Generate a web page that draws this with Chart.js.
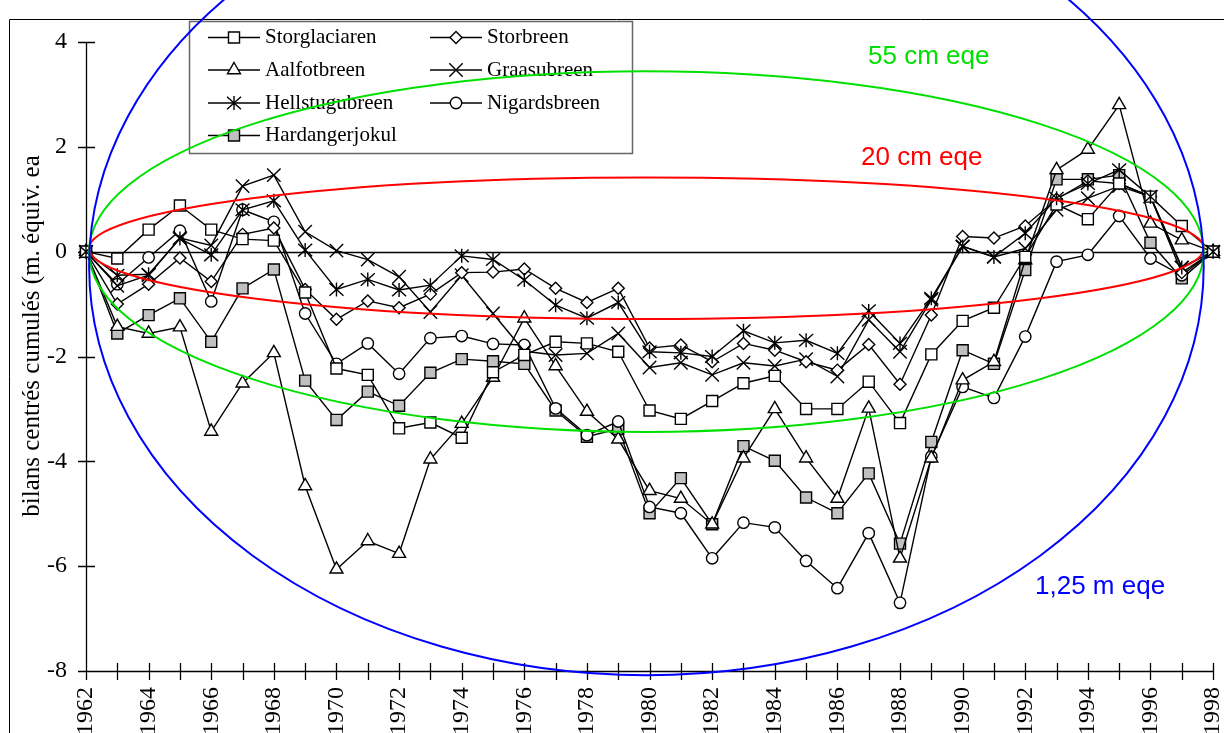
<!DOCTYPE html>
<html>
<head>
<meta charset="utf-8">
<script src="https://cdn.jsdelivr.net/npm/chart.js@4.4.1/dist/chart.umd.min.js"></script>
<style>
    html, body { margin: 0; padding: 0; background: #fff; }
    #wrap { width: 1224px; height: 733px; }
</style>
</head>
<body>
<div id="wrap"><canvas id="chart" width="1224" height="733"></canvas></div>
<script>
// Years and tick labels
const years = [1962, 1963, 1964, 1965, 1966, 1967, 1968, 1969, 1970, 1971, 1972, 1973,
    1974, 1975, 1976, 1977, 1978, 1979, 1980, 1981, 1982, 1983, 1984, 1985, 1986, 1987,
    1988, 1989, 1990, 1991, 1992, 1993, 1994, 1995, 1996, 1997, 1998];
const xTickLabels = ['1962', '1964', '1966', '1968', '1970', '1972', '1974', '1976', '1978',
    '1980', '1982', '1984', '1986', '1988', '1990', '1992', '1994', '1996', '1998'];
const yTickValues = [-8, -6, -4, -2, 0, 2, 4];

// Cumulated centred balances (m w.e.)
const storglaciaren = [0, -0.13, 0.42, 0.88, 0.42, 0.24, 0.21, -0.78, -2.23, -2.35, -3.37, -3.26,
    -3.55, -2.30, -1.97, -1.72, -1.75, -1.91, -3.03, -3.19, -2.85, -2.51, -2.37, -3.00, -3.00, -2.48,
    -3.27, -1.96, -1.32, -1.07, -0.10, 0.90, 0.62, 1.30, 1.05, 0.49, 0];
const storbreen = [0, -1.00, -0.62, -0.12, -0.57, 0.33, 0.45, -0.72, -1.29, -0.94, -1.07, -0.81,
    -0.40, -0.39, -0.33, -0.70, -0.97, -0.70, -1.84, -1.78, -2.10, -1.75, -1.88, -2.10, -2.26, -1.77,
    -2.53, -1.21, 0.29, 0.26, 0.49, 1.00, 1.35, 1.30, 1.05, -0.40, 0];
const aalfotbreen = [0, -1.43, -1.56, -1.44, -3.43, -2.51, -1.93, -4.47, -6.06, -5.52, -5.76, -3.96,
    -3.28, -2.40, -1.27, -2.18, -3.05, -3.58, -4.56, -4.71, -5.20, -3.94, -3.00, -3.94, -4.71, -2.99,
    -5.85, -3.94, -2.45, -2.10, -0.16, 1.56, 1.95, 2.80, 0.54, 0.22, 0];
const graasubreen = [0, -0.65, -0.45, 0.26, 0.12, 1.25, 1.46, 0.38, 0.02, -0.15, -0.48, -1.15,
    -0.45, -1.18, -1.90, -1.97, -1.94, -1.56, -2.21, -2.12, -2.35, -2.12, -2.18, -2.05, -2.38, -1.30,
    -1.91, -0.92, 0.10, -0.10, 0.06, 0.80, 1.02, 1.25, 1.05, -0.30, 0];
const hellstugubreen = [0, -0.45, -0.43, 0.25, -0.06, 0.80, 0.97, 0.03, -0.72, -0.53, -0.73, -0.64,
    -0.08, -0.15, -0.54, -1.02, -1.27, -0.97, -1.91, -1.93, -2.00, -1.51, -1.74, -1.69, -1.94, -1.13,
    -1.75, -0.89, 0.10, -0.10, 0.35, 1.02, 1.30, 1.56, 1.05, -0.30, 0];
const nigardsbreen = [0, -0.62, -0.11, 0.40, -0.95, 0.80, 0.57, -1.18, -2.14, -1.75, -2.33, -1.65,
    -1.61, -1.76, -1.78, -2.99, -3.50, -3.24, -4.87, -4.99, -5.85, -5.17, -5.26, -5.90, -6.42, -5.37,
    -6.70, -3.91, -2.58, -2.79, -1.62, -0.19, -0.06, 0.68, -0.13, -0.45, 0];
const hardangerjokul = [0, -1.56, -1.21, -0.89, -1.72, -0.70, -0.34, -2.46, -3.21, -2.67, -2.94, -2.31,
    -2.05, -2.09, -2.14, -3.03, -3.53, -3.38, -4.99, -4.32, -5.20, -3.71, -3.99, -4.69, -4.99, -4.23,
    -5.57, -3.63, -1.88, -2.14, -0.35, 1.38, 1.38, 1.46, 0.17, -0.51, 0];

// Envelope ellipses (centre year, half width in years, centre and half height in m)
const ellipseCenterYear = 1979.9;
const ellipseHalfYears = 17.8;
const ellipseCenters = [0.065, 0, -0.28];
const ellipseHalfHeights = [1.35, 3.44, 7.8];
const ellipseLabels = ['20 cm eqe', '55 cm eqe', '1,25 m eqe'];
const ellipseColors = ['#ff0000', '#00e000', '#0000ff'];

const SERIF = '"Liberation Serif", "Times New Roman", serif';
const SANS = '"Liberation Sans", Arial, sans-serif';

// asterisk marker: vertical bar + X (6 arms), drawn by hand for crisp strokes
function drawAsterisk(ctx, x, y, half) {
    ctx.save();
    ctx.strokeStyle = '#000';
    ctx.lineWidth = 1.4;
    ctx.beginPath();
    ctx.moveTo(x, y - half); ctx.lineTo(x, y + half);
    ctx.moveTo(x - half, y - half * 0.9); ctx.lineTo(x + half, y + half * 0.9);
    ctx.moveTo(x - half, y + half * 0.9); ctx.lineTo(x + half, y - half * 0.9);
    ctx.stroke();
    ctx.restore();
}

function toPoints(values) {
    return values.map((v, i) => ({ x: years[i], y: v }));
}

function series(label, values, style, radius, fill) {
    return {
        label: label,
        data: toPoints(values),
        borderColor: '#000',
        borderWidth: 1.4,
        pointStyle: style,
        pointRadius: style === 'asterisk' ? 0 : radius,
        markerRadius: radius,
        markerStyle: style,
        pointBackgroundColor: fill,
        pointBorderColor: '#000',
        pointBorderWidth: 1.4,
        tension: 0,
        clip: false
    };
}

const datasets = [
    series('Storglaciaren', storglaciaren, 'rect', 7.8, '#fff'),
    series('Storbreen', storbreen, 'rectRot', 6, '#fff'),
    series('Aalfotbreen', aalfotbreen, 'triangle', 7.5, '#fff'),
    series('Graasubreen', graasubreen, 'crossRot', 9.5, '#fff'),
    series('Hellstugubreen', hellstugubreen, 'asterisk', 7, '#fff'),
    series('Nigardsbreen', nigardsbreen, 'circle', 5.7, '#fff'),
    series('Hardangerjokul', hardangerjokul, 'rect', 7.8, '#c0c0c0')
];

// legend slots: [column x of line start, row y]
const legendSlots = [[208, 37.5], [430, 37.5], [208, 70], [430, 70], [208, 103], [430, 103], [208, 135.5]];

function drawMarker(ctx, ds, x, y) {
    if (ds.markerStyle === 'asterisk') {
        drawAsterisk(ctx, x, y, ds.markerRadius);
        return;
    }
    ctx.save();
    ctx.fillStyle = ds.pointBackgroundColor;
    ctx.strokeStyle = '#000';
    ctx.lineWidth = ds.pointBorderWidth;
    Chart.helpers.drawPoint(ctx, {
        pointStyle: ds.markerStyle,
        radius: ds.markerRadius,
        rotation: 0,
        borderWidth: ds.pointBorderWidth
    }, x, y);
    ctx.restore();
}

const overlayPlugin = {
    id: 'overlay',
    beforeDatasetsDraw(chart) {
        const ctx = chart.ctx;
        const xs = chart.scales.x;
        const ys = chart.scales.y;
        const a = chart.chartArea;
        ctx.save();
        ctx.strokeStyle = '#000';
        ctx.lineWidth = 1.3;
        ctx.beginPath();
        // zero line
        const y0 = Math.round(ys.getPixelForValue(0)) + 0.5;
        ctx.moveTo(a.left, y0); ctx.lineTo(a.right, y0);
        // axes
        ctx.moveTo(a.left + 0.5, a.top); ctx.lineTo(a.left + 0.5, a.bottom);
        ctx.moveTo(a.left, a.bottom + 0.5); ctx.lineTo(a.right, a.bottom + 0.5);
        // ticks crossing the axes
        yTickValues.forEach(v => {
            const py = Math.round(ys.getPixelForValue(v)) + 0.5;
            ctx.moveTo(a.left - 8, py); ctx.lineTo(a.left + 9, py);
        });
        years.forEach(v => {
            const px = Math.round(xs.getPixelForValue(v)) + 0.5;
            ctx.moveTo(px, a.bottom - 8); ctx.lineTo(px, a.bottom + 9);
        });
        ctx.stroke();

        // outer frame
        ctx.lineWidth = 1;
        ctx.beginPath();
        ctx.moveTo(9.5, 733); ctx.lineTo(9.5, 19.5); ctx.lineTo(1224, 19.5);
        ctx.stroke();

        // y axis title
        ctx.fillStyle = '#000';
        ctx.font = '25px ' + SERIF;
        ctx.textAlign = 'center';
        ctx.textBaseline = 'middle';
        ctx.translate(32, 336);
        ctx.rotate(-Math.PI / 2);
        ctx.fillText('bilans centrés cumulés (m. équiv. ea', 0, 0);
        ctx.restore();
    },
    afterDatasetsDraw(chart) {
        const ctx = chart.ctx;
        const xs = chart.scales.x;
        const ys = chart.scales.y;

        // hand-drawn asterisk markers at the library's point positions
        datasets.forEach((ds, i) => {
            if (ds.markerStyle !== 'asterisk') return;
            chart.getDatasetMeta(i).data.forEach(el => drawAsterisk(ctx, el.x, el.y, ds.markerRadius));
        });

        // legend box
        ctx.save();
        ctx.fillStyle = '#fff';
        ctx.strokeStyle = '#666';
        ctx.lineWidth = 1.5;
        ctx.fillRect(189.5, 21.5, 443, 132);
        ctx.strokeRect(189.5, 21.5, 443, 132);
        ctx.font = '21px ' + SERIF;
        ctx.textAlign = 'left';
        ctx.textBaseline = 'middle';
        datasets.forEach((ds, i) => {
            const [lx, ly] = legendSlots[i];
            ctx.strokeStyle = '#000';
            ctx.lineWidth = 1.4;
            ctx.beginPath();
            ctx.moveTo(lx, ly); ctx.lineTo(lx + 52, ly);
            ctx.stroke();
            drawMarker(ctx, ds, lx + 26, ly);
            ctx.fillStyle = '#000';
            ctx.fillText(ds.label, lx + 57, ly);
        });
        ctx.restore();

        // envelope ellipses
        ctx.save();
        const cx = xs.getPixelForValue(ellipseCenterYear);
        const rx = xs.getPixelForValue(ellipseCenterYear + ellipseHalfYears) - cx;
        ellipseHalfHeights.forEach((h, i) => {
            const cy = ys.getPixelForValue(ellipseCenters[i]);
            const ry = cy - ys.getPixelForValue(ellipseCenters[i] + h);
            ctx.strokeStyle = ellipseColors[i];
            ctx.lineWidth = 2;
            ctx.beginPath();
            ctx.ellipse(cx, cy, rx, ry, 0, 0, Math.PI * 2);
            ctx.stroke();
        });
        // ellipse labels
        const labelPos = [[861, 158], [868, 57], [1035, 587]];
        ctx.font = '26px ' + SANS;
        ctx.textAlign = 'left';
        ctx.textBaseline = 'middle';
        ellipseLabels.forEach((t, i) => {
            ctx.fillStyle = ellipseColors[i];
            ctx.fillText(t, labelPos[i][0], labelPos[i][1]);
        });
        ctx.restore();
    }
};

class GlacierChart {
    constructor(canvasId) {
        this.ctx = document.getElementById(canvasId).getContext('2d');
        this.render();
    }

    render() {
        new Chart(this.ctx, {
            type: 'line',
            data: { datasets: datasets },
            plugins: [overlayPlugin],
            options: {
                responsive: false,
                animation: false,
                events: [],
                layout: { padding: { top: 42, right: 6, left: 0, bottom: 0 } },
                plugins: {
                    legend: { display: false },
                    tooltip: { enabled: false }
                },
                scales: {
                    x: {
                        type: 'linear',
                        min: 1962,
                        max: 1998,
                        grid: { display: false, drawTicks: false },
                        border: { display: false },
                        afterBuildTicks: s => { s.ticks = years.map(v => ({ value: v })); },
                        afterFit: s => { s.height = 62; s.paddingLeft = 0; s.paddingRight = 0; },
                        ticks: {
                            autoSkip: false,
                            minRotation: 90,
                            maxRotation: 90,
                            padding: 16,
                            color: '#000',
                            font: { family: SERIF, size: 24 },
                            callback: v => xTickLabels.includes(String(v)) ? String(v) : ''
                        }
                    },
                    y: {
                        type: 'linear',
                        min: -8,
                        max: 4,
                        grid: { display: false, drawTicks: false },
                        border: { display: false },
                        afterBuildTicks: s => { s.ticks = yTickValues.map(v => ({ value: v })); },
                        afterFit: s => { s.width = 86; s.paddingTop = 0; s.paddingBottom = 0; },
                        ticks: {
                            padding: 19,
                            color: '#000',
                            font: { family: SERIF, size: 24 },
                            callback: v => String(v)
                        }
                    }
                }
            }
        });
    }
}

new GlacierChart('chart');
</script>
</body>
</html>
